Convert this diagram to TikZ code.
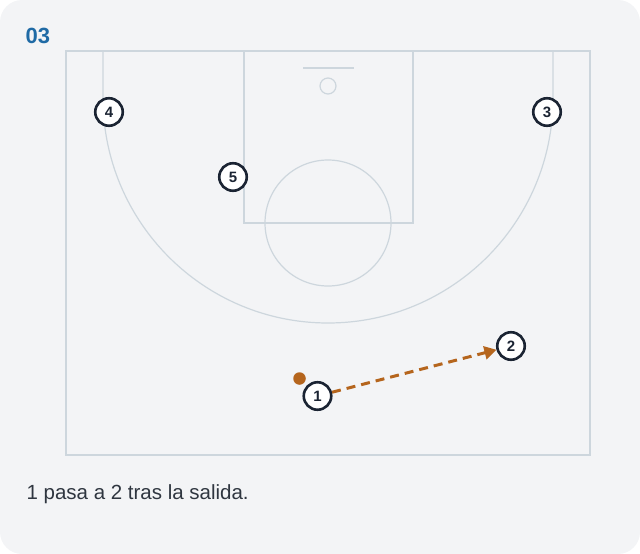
\documentclass[tikz,border=0pt]{standalone}
\usepackage{fontspec}
\setmainfont{Liberation Sans}
\usetikzlibrary{arrows.meta}
\definecolor{card}{HTML}{F3F4F6}
\definecolor{court}{HTML}{CDD6DD}
\definecolor{ink}{HTML}{1B2433}
\definecolor{pass}{HTML}{B5651D}
\definecolor{titleblue}{HTML}{1F6AA5}
\definecolor{captext}{HTML}{2F3640}

\begin{document}
\begin{tikzpicture}[x=1pt, y=-1pt,
	player/.style={circle, minimum width=27.5pt, inner sep=0pt, draw=ink,
		line width=2.6pt, fill=white, text=ink,
		font=\bfseries\fontsize{15}{15}\selectfont},
	courtline/.style={draw=court, line width=1.2pt}]
				\useasboundingbox (0,0) rectangle (640,554);
				\fill[card, rounded corners=22pt] (0,0) rectangle (640,554);
				% court
				\draw[courtline] (66,51) rectangle (590,455);
				\draw[courtline] (244,51) rectangle (413,223);
				\draw[courtline] (303,68) -- (354,68);
				\draw[courtline] (328,86) circle[radius=8];
				\draw[courtline] (328,223) circle[radius=63];
				\draw[courtline] (103,51) -- (103,98) arc[start angle=180, end angle=0, radius=225] -- (553,51);
				% texts
				\node[anchor=west, text=titleblue,
				font=\bfseries\fontsize{22}{22}\selectfont] (title) at(22,36){03};
				\node[anchor=west, text=captext,
				font=\fontsize{20.5}{20.5}\selectfont] (caption) at(23,494){1 pasa a 2 tras la salida.};
				% players
				\node[circle, fill=pass, minimum width=12.5pt, inner sep=0pt] (ball) at(299.5,378.5){};
				\node[player] (1) at(317.5,396){1};
				\node[player] (2) at(511,346){2};
				\node[player] (3) at(547,112){3};
				\node[player] (4) at(109,112){4};
				\node[player] (5) at(233,177){5};
				\draw[pass, line width=3pt, dash pattern=on 9pt off 6pt,
				-{Triangle[length=12pt,width=13pt]}] (1) -- (2);
			\end{tikzpicture}
\end{document}
